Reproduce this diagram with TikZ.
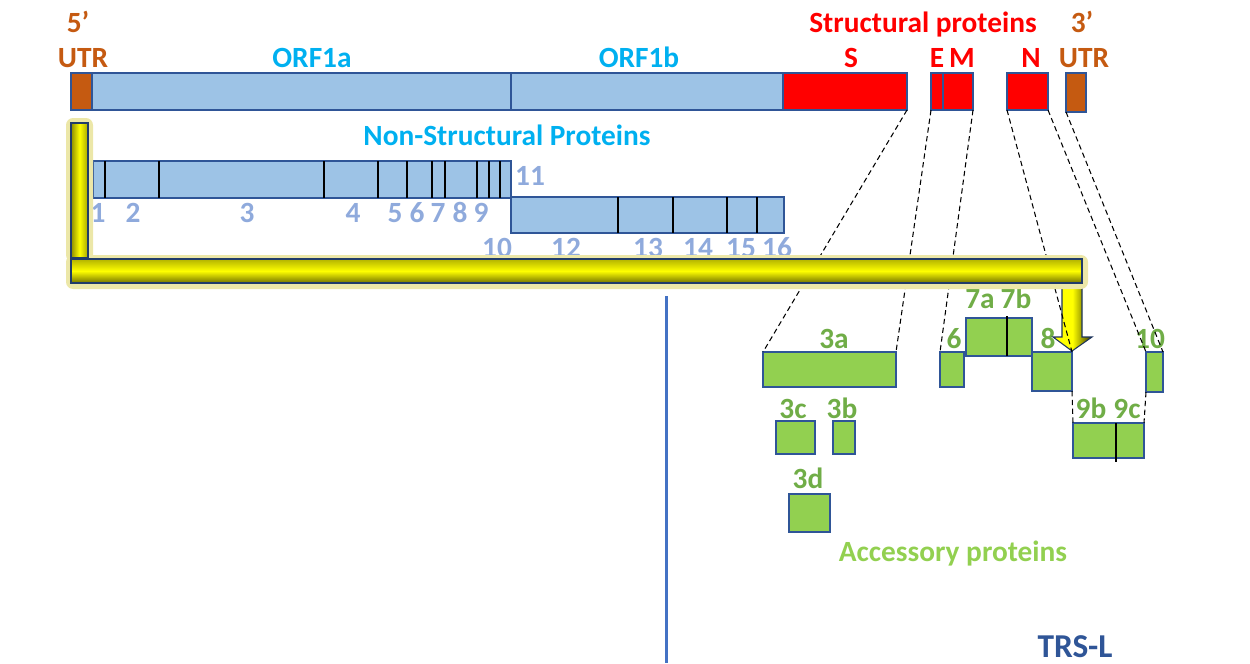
\documentclass[tikz,border=0pt]{standalone}
\usepackage{fontspec}
\setmainfont{Carlito}
\usetikzlibrary{fit}

\definecolor{orfblue}{HTML}{9DC3E6}
\definecolor{edgeblue}{HTML}{2F5597}
\definecolor{utrorange}{HTML}{C55A11}
\definecolor{orfcyan}{HTML}{00B0F0}
\definecolor{nspgrey}{HTML}{8FAADC}
\definecolor{accgreen}{HTML}{92D050}
\definecolor{acctext}{HTML}{70AD47}
\definecolor{trsblue}{HTML}{4472C4}
\definecolor{halo}{HTML}{ECE7A8}

\tikzset{
  genebox/.style={draw=edgeblue,line width=1.2pt,inner sep=0pt,outer sep=0pt},
  orf/.style={genebox,fill=orfblue},
  utr/.style={genebox,fill=utrorange},
  struct/.style={genebox,fill=red},
  acc/.style={genebox,fill=accgreen},
  lab/.style={font=\bfseries\fontsize{16.7}{18}\selectfont,anchor=base,inner sep=0pt},
  split/.style={black,line width=1.4pt},
  guide/.style={black,line width=0.6pt,dash pattern=on 3pt off 2pt},
}

\begin{document}
\begin{tikzpicture}[x=0.02cm,y=-0.02cm]
\useasboundingbox (0,0) rectangle (1250,663);

% genome
\node[utr,fit={(71,73)(92,110)}] (utr5) {};
\node[orf,fit={(92,73)(511,110)}] (orf1a) {};
\node[orf,fit={(511,73)(783,110)}] (orf1b) {};
\node[struct,fit={(783,73)(907,110)}] (S) {};
\node[struct,fit={(931,73)(943,110)}] (E) {};
\node[struct,fit={(943,73)(973,110)}] (M) {};
\node[struct,fit={(1007,73)(1048,110)}] (N) {};
\node[utr,fit={(1066,73)(1086,112)}] (utr3) {};

\node[lab,utrorange] (five) at (78,32) {5’};
\node[lab,utrorange] (utr5lab) at (83,67) {UTR};
\node[lab,orfcyan] (orf1alab) at (312,67) {ORF1a};
\node[lab,orfcyan] (orf1blab) at (639,67) {ORF1b};
\node[lab,red] (structlab) at (923,32) {Structural proteins};
\node[lab,red] (Slab) at (851,67) {S};
\node[lab,red] (Elab) at (937,67) {E};
\node[lab,red] (Mlab) at (962,67) {M};
\node[lab,red] (Nlab) at (1031,67) {N};
\node[lab,utrorange] (three) at (1082,32) {3’};
\node[lab,utrorange] (utr3lab) at (1084,67) {UTR};

% non-structural proteins
\node[lab,orfcyan] (nsplab) at (507,145) {Non-Structural Proteins};
\node[orf,fit={(93,161)(511,198)}] (nspA) {};
\foreach \x in {105,159,324,378,407,432,445,477,489,500}
  \draw[split] (\x,161) -- (\x,198);
\node[orf,fit={(511,197)(784,233)}] (nspB) {};
\foreach \x in {618,673,727,757}
  \draw[split] (\x,197) -- (\x,233);
\foreach \n/\x in {1/98,2/133,3/247,4/353,5/395,6/417,7/438,8/460,9/481}
  \node[lab,nspgrey] (nsp\n) at (\x,222) {\n};
\node[lab,nspgrey] (nsp11) at (530,185) {11};
\foreach \n/\x in {10/497,12/566,13/648,14/698,15/741,16/777}
  \node[lab,nspgrey] (nsp\n) at (\x,257) {\n};

% accessory proteins
\node[acc,fit={(763,352)(896,387)}] (acc3a) {};
\node[acc,fit={(776,421)(815,454)}] (acc3c) {};
\node[acc,fit={(833,421)(855,454)}] (acc3b) {};
\node[acc,fit={(789,494)(830,532)}] (acc3d) {};
\node[acc,fit={(940,352)(964,387)}] (acc6) {};
\node[acc,fit={(966,318)(1032,356)}] (acc7) {};
\draw[split] (1007,316) -- (1007,356);
\node[acc,fit={(1032,352)(1072,391)}] (acc8) {};
\node[acc,fit={(1146,352)(1163,392)}] (acc10) {};
\node[acc,fit={(1073,423)(1144,458)}] (acc9) {};
\draw[split] (1116,423) -- (1116,462);

\node[lab,acctext] (l3a) at (834,348) {3a};
\node[lab,acctext] (l3c) at (793,418) {3c};
\node[lab,acctext] (l3b) at (842,418) {3b};
\node[lab,acctext] (l3d) at (808,488) {3d};
\node[lab,acctext] (l6) at (954,348) {6};
\node[lab,acctext] (l7a) at (980,308) {7a};
\node[lab,acctext] (l7b) at (1016,308) {7b};
\node[lab,acctext] (l8) at (1048,348) {8};
\node[lab,acctext] (l10) at (1150,348) {10};
\node[lab,acctext] (l9b) at (1091,418) {9b};
\node[lab,acctext] (l9c) at (1127,418) {9c};
\node[lab,accgreen] (acclab) at (953,561) {Accessory proteins};

% yellow arrow: drop to the accessory genes
\shadedraw[left color=yellow,right color=yellow!20!black,middle color=yellow,
  draw=edgeblue!60!black,line width=0.6pt]
  (1062,283) -- (1062,337) -- (1053,337) -- (1072,351) -- (1092,337)
  -- (1082,337) -- (1082,283) -- cycle;

% dashed guides from the genome
\draw[guide] (S.south east) -- (acc3a.north west);
\draw[guide] (E.south west) -- (acc3a.north east);
\draw[guide] (M.south east) -- (acc6.north west);
\draw[guide] (N.south west) -- (acc8.north east);
\draw[guide] (acc8.south east) -- (acc9.north west);
\draw[guide] (N.south east) -- (acc10.north west);
\draw[guide] (utr3.south west) -- (acc10.north east);
\draw[guide] (acc10.south west) -- (acc9.north east);

% yellow arrow: bar along the bottom
\fill[halo,rounded corners=4] (66,118) rectangle (93,262);
\fill[halo,rounded corners=4] (66,255) rectangle (1088,289);
\shadedraw[left color=yellow!55!black,right color=yellow!65!black,middle color=yellow,
  draw=edgeblue!70!black,line width=0.7pt] (71,123) rectangle (88,258);
\shadedraw[top color=yellow!70!black,bottom color=yellow!45!black,middle color=yellow,
  draw=edgeblue!70!black,line width=0.7pt] (71,259) rectangle (1082,283);

% TRS-L
\draw[trsblue,line width=1.7pt] (666,296) -- (666,663);
\node[lab,edgeblue,font=\bfseries\fontsize{19}{20}\selectfont] (trs) at (1075,657) {TRS-L};
\end{tikzpicture}
\end{document}
